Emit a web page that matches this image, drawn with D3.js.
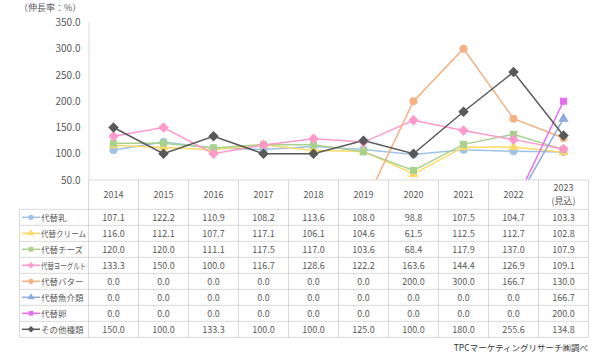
<!DOCTYPE html>
<html><head><meta charset="utf-8">
<script src="https://cdn.jsdelivr.net/npm/d3@7/dist/d3.min.js"></script>
<style>body{margin:0;background:#fff}svg{display:block}text{font-family:"Noto Sans CJK JP","Noto Sans",sans-serif}</style>
</head><body><svg id="c" width="600" height="358"></svg>
<script>
const years = ["2014","2015","2016","2017","2018","2019","2020","2021","2022","2023"];
const seriesNames = ["代替乳","代替クリーム","代替チーズ","代替ヨーグルト","代替バター","代替魚介類","代替卵","その他種類"];
const s0 = [107.1,122.2,110.9,108.2,113.6,108.0,98.8,107.5,104.7,103.3];
const s1 = [116.0,112.1,107.7,117.1,106.1,104.6,61.5,112.5,112.7,102.8];
const s2 = [120.0,120.0,111.1,117.5,117.0,103.6,68.4,117.9,137.0,107.9];
const s3 = [133.3,150.0,100.0,116.7,128.6,122.2,163.6,144.4,126.9,109.1];
const s4 = [0.0,0.0,0.0,0.0,0.0,0.0,200.0,300.0,166.7,130.0];
const s5 = [0.0,0.0,0.0,0.0,0.0,0.0,0.0,0.0,0.0,166.7];
const s6 = [0.0,0.0,0.0,0.0,0.0,0.0,0.0,0.0,0.0,200.0];
const s7 = [150.0,100.0,133.3,100.0,100.0,125.0,100.0,180.0,255.6,134.8];
const yTicks = [50,100,150,200,250,300,350];
const values = [s0,s1,s2,s3,s4,s5,s6,s7];
const colors = ["#9DC3E6","#FFD966","#A9D18E","#FF99CC","#F4B183","#8FAADC","#E66EF0","#595959"];
const diamond = {draw(ctx,size){const r=Math.sqrt(size/2);ctx.moveTo(0,-r);ctx.lineTo(r,0);ctx.lineTo(0,r);ctx.lineTo(-r,0);ctx.closePath();}};
const shapes = [d3.symbolCircle,d3.symbolTriangle,d3.symbolSquare,diamond,d3.symbolCircle,d3.symbolTriangle,d3.symbolSquare,diamond];
const txt = "#595959";

const svg = d3.select("#c");
const L = 88.5, R = 588.5, T = 22.5, B = 180;
const x = d3.scaleBand().domain(years).range([L,R]);
const y = d3.scaleLinear().domain([50,350]).range([B,T]);
const grid = "#d9d9d9";

svg.append("text").attr("x",19).attr("y",11).attr("font-size",9).attr("fill",txt).text("（伸長率：%）");

// y axis
const ya = svg.append("g").attr("transform",`translate(${L},0)`).call(d3.axisLeft(y).tickValues(yTicks).tickFormat(d3.format(".1f")).tickSize(0).tickPadding(8));
ya.select(".domain").attr("stroke",grid);
ya.selectAll("text").attr("font-size",10).attr("fill",txt).style("font-family","'Noto Sans CJK JP',sans-serif");

// clip
svg.append("clipPath").attr("id","pc").append("rect").attr("x",L).attr("y",0).attr("width",R-L+12).attr("height",B);

const plot = svg.append("g").attr("clip-path","url(#pc)");
const cx = d => x(d) + x.bandwidth()/2;
const line = d3.line().x((d,i)=>cx(years[i])).y(d=>y(d));
values.forEach((vals,k)=>{
  plot.append("path").attr("d",line(vals)).attr("fill","none").attr("stroke",colors[k]).attr("stroke-width",1.5);
});
values.forEach((vals,k)=>{
  const sz = shapes[k]===d3.symbolTriangle?45:(shapes[k]===diamond?55:50);
  plot.selectAll(null).data(vals.map((v,i)=>({v,i})).filter(d=>d.v>=50)).enter().append("path")
    .attr("d",d3.symbol(shapes[k],sz)).attr("fill",colors[k])
    .attr("transform",d=>`translate(${cx(years[d.i])},${y(d.v)})`);
});

// table
const rowH = 16, headTop = 180, headBot = 209.3;
const tL = 19.5;
const tbl = svg.append("g");
const nRows = seriesNames.length;
const tB = headBot + nRows*rowH;
tbl.append("line").attr("x1",L).attr("x2",R).attr("y1",headTop).attr("y2",headTop).attr("stroke",grid);
for(let r=0;r<=nRows;r++){
  const yy = headBot + r*rowH;
  tbl.append("line").attr("x1",tL).attr("x2",R).attr("y1",yy).attr("y2",yy).attr("stroke",grid);
}
tbl.append("line").attr("x1",tL).attr("x2",tL).attr("y1",headBot).attr("y2",tB).attr("stroke",grid);
years.concat(["end"]).forEach((yr,i)=>{
  const xx = i<years.length ? x(yr) : R;
  tbl.append("line").attr("x1",xx).attr("x2",xx).attr("y1",headTop).attr("y2",tB).attr("stroke",grid);
});
years.forEach((yr,i)=>{
  if(i===years.length-1){
    tbl.append("text").attr("x",cx(yr)).attr("y",191).attr("text-anchor","middle").attr("font-size",9).attr("fill",txt).text(yr);
    tbl.append("text").attr("x",cx(yr)).attr("y",204).attr("text-anchor","middle").attr("font-size",9).attr("fill",txt).text("(見込)");
  } else {
    tbl.append("text").attr("x",cx(yr)).attr("y",198).attr("text-anchor","middle").attr("font-size",9).attr("fill",txt).text(yr);
  }
});
seriesNames.forEach((nm,k)=>{
  const yc = headBot + k*rowH + rowH/2;
  tbl.append("line").attr("x1",22).attr("x2",40).attr("y1",yc).attr("y2",yc).attr("stroke",colors[k]).attr("stroke-width",1.5);
  tbl.append("path").attr("d",d3.symbol(shapes[k],22)).attr("fill",colors[k]).attr("transform",`translate(31,${yc})`);
  const t = tbl.append("text").attr("x",41).attr("y",yc+3.3).attr("font-size",8.5).attr("fill",txt).text(nm);
  const w = t.node().getComputedTextLength();
  if (w > 45) t.attr("textLength",45).attr("lengthAdjust","spacingAndGlyphs");
  values[k].forEach((v,i)=>{
    tbl.append("text").attr("x",cx(years[i])).attr("y",yc+3.3).attr("text-anchor","middle").attr("font-size",9).attr("fill",txt).text(v.toFixed(1));
  });
});
svg.append("text").attr("x",588).attr("y",351).attr("text-anchor","end").attr("font-size",8.5).attr("fill","#333").text("TPCマーケティングリサーチ㈱調べ");
</script></body></html>
